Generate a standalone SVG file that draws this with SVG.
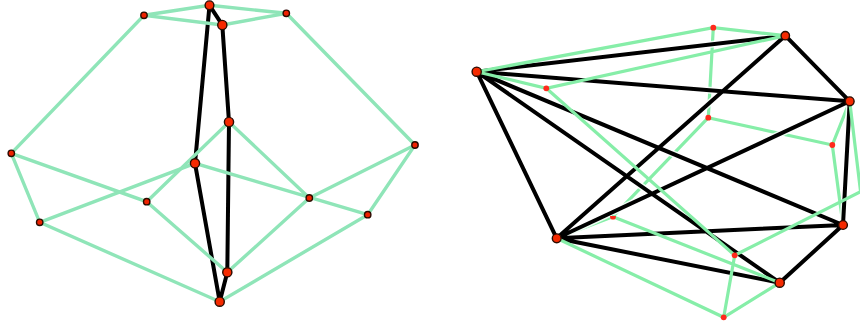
<svg xmlns="http://www.w3.org/2000/svg" width="860" height="329" viewBox="0 0 860 329">
<style>
.lg{stroke:#8fe5b8;stroke-width:3.4;fill:none;stroke-linecap:round}
.rg{stroke:#86eea8;stroke-width:3.2;fill:none;stroke-linecap:round}
.k{stroke:#000;stroke-width:4;fill:none;stroke-linecap:butt}
.h{stroke:#fff;stroke-width:7;fill:none;opacity:.85}
.big{fill:#f52a00;stroke:#2a0a00;stroke-width:1.4}
.sm{fill:#ee2200;stroke:#2a0a00;stroke-width:1.4}
.dot{fill:#ff2a1a}
</style>
<defs>
<filter id="soft" x="-5%" y="-5%" width="110%" height="110%"><feGaussianBlur stdDeviation="0.5"/></filter>
<clipPath id="gclip"><rect x="605" y="216" width="16" height="10"/></clipPath>
</defs>
<g filter="url(#soft)">
<g id="connectors">
<g id="left-black">
<path class="h" d="M209.5 5.3L195 163.3L219.7 301.7M209.5 5.3L222.3 25L229 122L227.3 272.3L219.7 301.7"/>
<path class="k" d="M209.5 5.3L195 163.3L219.7 301.7M209.5 5.3L222.3 25L229 122L227.3 272.3L219.7 301.7"/>
</g>
<g id="left-green">
<path class="lg" d="M144 15.3L209.5 5.3L286.3 13.3L222.3 25L144 15.3L11.3 153.3L39.7 222.3L219.7 301.7L367.7 214.7L415 145L286.3 13.3"/>
<path class="lg" d="M11.3 153.3L146.7 201.7L229 122L309.3 198L227.3 272.3L146.7 201.7"/>
<path class="lg" d="M39.7 222.3L195 163.3L367.7 214.7M309.3 198L415 145"/>
</g>
<g id="right-green-under">
<path class="rg" d="M713.3 27.7L708.3 117.7L832.3 145L849.7 101.3M832.3 145L843 225M708.3 117.7L613 216.7L556.7 238.3"/>
</g>
<g id="right-black">
<path class="h" d="M476.7 71.7L785.3 35.7L849.7 101.3L476.7 71.7L556.7 238.3L785.3 35.7M556.7 238.3L849.7 101.3L843 225L476.7 71.7L779.7 282.7L843 225L556.7 238.3L779.7 282.7"/>
<g class="k">
<path d="M476.7 71.7L785.3 35.7M785.3 35.7L849.7 101.3M849.7 101.3L476.7 71.7M476.7 71.7L556.7 238.3M556.7 238.3L785.3 35.7M556.7 238.3L849.7 101.3M849.7 101.3L843 225M843 225L476.7 71.7M476.7 71.7L779.7 282.7M779.7 282.7L843 225M843 225L556.7 238.3M556.7 238.3L779.7 282.7"/>
</g>
</g>
<g id="right-green-over">
<path class="rg" d="M476.7 71.7L713.3 27.7L785.3 35.7L546.3 88.3L476.7 71.7M546.3 88.3L734.7 255.3L723.7 317.3L556.7 238.3M723.7 317.3L779.7 282.7L613 216.7M734.7 255.3L862 191M849.7 101.3L860.5 191"/>
</g>
</g>
<g id="n1"><circle class="big" cx="209.5" cy="5.3" r="4.4"/></g>
<g id="n2"><circle class="big" cx="222.3" cy="25" r="4.6"/></g>
<g id="n3"><circle class="sm" cx="144" cy="15.3" r="3.2"/></g>
<g id="n4"><circle class="sm" cx="286.3" cy="13.3" r="3.2"/></g>
<g id="n5"><circle class="big" cx="229" cy="122" r="4.6"/></g>
<g id="n6"><circle class="big" cx="195" cy="163.3" r="4.6"/></g>
<g id="n7"><circle class="sm" cx="11.3" cy="153.3" r="3.2"/></g>
<g id="n8"><circle class="sm" cx="415" cy="145" r="3.2"/></g>
<g id="n9"><circle class="sm" cx="39.7" cy="222.3" r="3.2"/></g>
<g id="n10"><circle class="sm" cx="146.7" cy="201.7" r="3.2"/></g>
<g id="n11"><circle class="sm" cx="309.3" cy="198" r="3.2"/></g>
<g id="n12"><circle class="sm" cx="367.7" cy="214.7" r="3.2"/></g>
<g id="n13"><circle class="big" cx="227.3" cy="272.3" r="4.6"/></g>
<g id="n14"><circle class="big" cx="219.7" cy="301.7" r="4.6"/></g>
<g id="r1"><circle class="big" cx="476.7" cy="71.7" r="4.6"/></g>
<g id="r2"><circle class="big" cx="785.3" cy="35.7" r="4.2"/></g>
<g id="r3"><circle class="big" cx="849.7" cy="101.3" r="4.4"/></g>
<g id="r4"><circle class="big" cx="556.7" cy="238.3" r="4.4"/></g>
<g id="r5"><circle class="big" cx="843" cy="225" r="4.4"/></g>
<g id="r6"><circle class="big" cx="779.7" cy="282.7" r="4.6"/></g>
<g id="a"><circle class="dot" cx="713.3" cy="27.7" r="2.9"/></g>
<g id="b"><circle class="dot" cx="546.3" cy="88.3" r="2.9"/></g>
<g id="c"><circle class="dot" cx="708.3" cy="117.7" r="2.9"/></g>
<g id="d"><circle class="dot" cx="832.3" cy="145" r="2.9"/></g>
<g id="e"><circle class="dot" cx="734.7" cy="255.3" r="2.9"/></g>
<g id="f"><circle class="dot" cx="723.7" cy="317.3" r="2.9"/></g>
<g id="g"><circle class="dot" cx="613" cy="216.7" r="2.9" clip-path="url(#gclip)"/></g>
</g>
</svg>
